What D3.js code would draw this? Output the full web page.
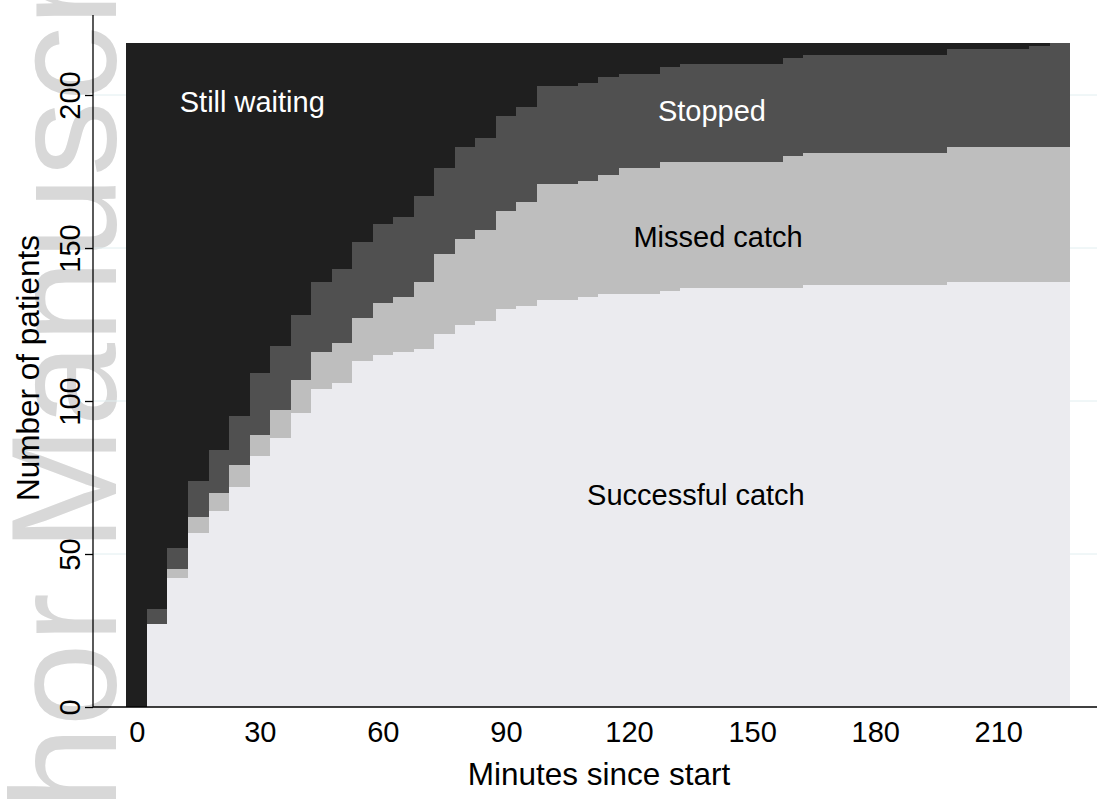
<!DOCTYPE html>
<html>
<head>
<meta charset="utf-8">
<script src="https://cdn.jsdelivr.net/npm/d3@7"></script>
<style>
body { margin: 0; background: #fff; }
svg { display: block; font-family: "Liberation Sans", Arial, Helvetica, sans-serif; }
.tick text { font-size: 29px; fill: #000; }
.tick line { stroke: #000; stroke-width: 1.3; }
.label { font-size: 29px; }
.title { font-size: 31.5px; }
</style>
</head>
<body>
<svg width="1097" height="799"></svg>
<script>
// minutes since start (centre of each 5 minute bin)
var minutes = [0,5,10,15,20,25,30,35,40,45,50,55,60,65,70,75,80,85,90,95,
               100,105,110,115,120,125,130,135,140,145,150,155,160,165,170,175,180,185,190,195,
               200,205,210,215,220,225];

// patients in each state at that time
var successful = [0,27,42,57,64,72,82,88,96,104,
                  106,113,115,116,117,122,125,126,130,131,
                  133,133,134,135,135,135,136,137,137,137,
                  137,137,137,138,138,138,138,138,138,138,
                  139,139,139,139,139,139];
var missed = [0,0,3,5,6,7,7,9,11,12,
              13,14,17,18,22,26,28,30,32,34,
              38,38,38,39,41,41,42,41,41,41,
              41,41,43,43,43,43,43,43,43,43,
              44,44,44,44,44,44];
var stopped = [0,5,7,12,14,16,20,21,21,23,
               24,25,26,26,28,28,30,30,31,31,
               32,32,32,32,31,31,31,32,32,32,
               32,32,32,32,32,32,32,32,32,32,
               32,32,32,32,33,34];
var waiting = [217,185,165,143,133,122,108,99,89,78,
               74,65,59,57,50,41,34,31,24,21,
               14,14,13,11,10,10,8,7,7,7,
               7,7,5,4,4,4,4,4,4,4,
               2,2,2,2,1,0];

var keys = ["successful", "missed", "stopped", "waiting"];
var names = ["Successful catch", "Missed catch", "Stopped", "Still waiting"];
var xTicks = [0,30,60,90,120,150,180,210];
var yTicks = [0,50,100,150,200];

var svg = d3.select("svg"),
    width = +svg.attr("width"),
    height = +svg.attr("height");

var x = d3.scaleLinear().domain([0, 210]).range([136.7, 998.3]);
var y = d3.scaleLinear().domain([0, 200]).range([707, 95]);
var binHalf = 2.5;

var color = d3.scaleOrdinal()
    .domain(keys)
    .range(["#ebebef", "#bebebe", "#505050", "#1f1f1f"]);
var labelColor = d3.scaleOrdinal()
    .domain(keys)
    .range(["#000", "#000", "#fff", "#fff"]);

// watermark behind the plot
svg.append("text")
    .attr("transform", "translate(116,1035) rotate(-90)")
    .attr("fill", "#d8d8d8")
    .style("font-size", "150px")
    .text("Author Manuscript");

// faint grid lines
svg.append("g")
   .selectAll("line")
   .data(yTicks.filter(function(d) { return d > 0; }))
   .enter()
   .append("line")
   .attr("x1", 93)
   .attr("x2", width)
   .attr("y1", function(d) { return y(d); })
   .attr("y2", function(d) { return y(d); })
   .attr("stroke", "#e1eef0")
   .attr("stroke-width", 1);

var rows = minutes.map(function(m, i) {
    return { minute: m, successful: successful[i], missed: missed[i],
             stopped: stopped[i], waiting: waiting[i] };
});

var layers = d3.stack().keys(keys)(rows);

var area = d3.area()
    .curve(d3.curveStepAfter)
    .x(function(d) { return x(d.m); })
    .y0(function(d) { return y(d.v0); })
    .y1(function(d) { return y(d.v1); });

svg.append("g")
   .selectAll("path")
   .data(layers)
   .enter()
   .append("path")
   .attr("fill", function(d) { return color(d.key); })
   .attr("shape-rendering", "crispEdges")
   .attr("d", function(layer) {
       var pts = layer.map(function(d) {
           return { m: d.data.minute - binHalf, v0: d[0], v1: d[1] };
       });
       var last = layer[layer.length - 1];
       pts.push({ m: last.data.minute + binHalf, v0: last[0], v1: last[1] });
       return area(pts);
   });

// y axis
var yAxis = svg.append("g")
    .attr("transform", "translate(93,0)")
    .call(d3.axisLeft(y).tickValues(yTicks).tickSize(8).tickSizeOuter(0));
yAxis.select(".domain").remove();
yAxis.selectAll(".tick text")
    .attr("transform", "rotate(-90)")
    .attr("x", 0)
    .attr("y", -13)
    .attr("dy", 0)
    .attr("text-anchor", "middle");
svg.append("line")
   .attr("x1", 93).attr("x2", 93)
   .attr("y1", 15).attr("y2", 707)
   .attr("stroke", "#000").attr("stroke-width", 1.3);

// x axis
var xAxis = svg.append("g")
    .attr("transform", "translate(0,707)")
    .call(d3.axisBottom(x).tickValues(xTicks).tickSize(0).tickPadding(0));
xAxis.select(".domain").remove();
xAxis.selectAll(".tick text")
    .attr("y", 35)
    .attr("dy", 0);
svg.append("line")
   .attr("x1", 93).attr("x2", width)
   .attr("y1", 707).attr("y2", 707)
   .attr("stroke", "#000").attr("stroke-width", 1.3);

// axis titles
svg.append("text")
   .attr("class", "title")
   .attr("transform", "translate(39,368) rotate(-90)")
   .attr("text-anchor", "middle")
   .text("Number of patients");

svg.append("text")
   .attr("class", "title")
   .attr("x", 599)
   .attr("y", 785)
   .attr("text-anchor", "middle")
   .text("Minutes since start");

// state labels inside the areas
var labelAt = [
    { key: "waiting", m: 10.5, v: 194.4, anchor: "start" },
    { key: "stopped", m: 140.2, v: 191.5, anchor: "middle" },
    { key: "missed", m: 141.7, v: 150.4, anchor: "middle" },
    { key: "successful", m: 136.3, v: 66, anchor: "middle" }
];
svg.append("g")
   .selectAll("text")
   .data(labelAt)
   .enter()
   .append("text")
   .attr("class", "label")
   .attr("x", function(d) { return x(d.m); })
   .attr("y", function(d) { return y(d.v); })
   .attr("text-anchor", function(d) { return d.anchor; })
   .attr("fill", function(d) { return labelColor(d.key); })
   .text(function(d) { return names[keys.indexOf(d.key)]; });
</script>
</body>
</html>
